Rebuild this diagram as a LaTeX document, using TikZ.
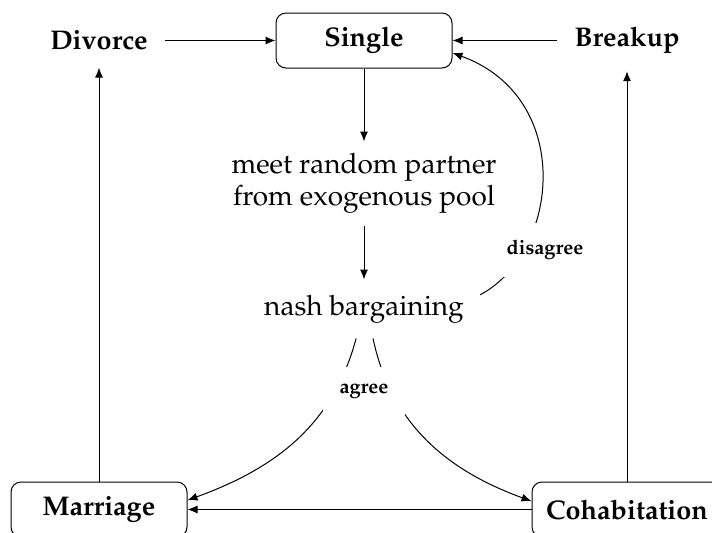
\documentclass[tikz,border=0pt]{standalone}
\IfFileExists{mathpazo.sty}{\usepackage[T1]{fontenc}\usepackage{mathpazo}}
  {\IfFileExists{palatino.sty}{\usepackage[T1]{fontenc}\usepackage{palatino}}
    {\usepackage{fontspec}\setmainfont{Liberation Serif}}}
\usetikzlibrary{arrows.meta}
\tikzset{state/.style = {draw, rounded corners=5pt, minimum width=88pt,
                         minimum height=27.5pt, inner xsep=7pt,
                         font=\fontsize{13.5}{16}\selectfont\bfseries}}
\tikzset{plain/.style = {inner sep=8.5pt, font=\fontsize{13.5}{16}\selectfont\bfseries}}
\tikzset{stage/.style = {align=center, inner xsep=8pt, font=\fontsize{14}{16}\selectfont}}
\tikzset{choice/.style = {fill=white, inner sep=8.5pt,
                          font=\fontsize{10}{12}\selectfont\bfseries}}

\begin{document}
\begin{tikzpicture}[x=0.5pt, y=-0.5pt, line width=0.5pt,
                    >={Latex[length=5pt,width=4pt]}]
			\clip (0, 0) rectangle (712, 532);
			\node [state] (single) at (364, 40.5) {Single};
			\node [state] (marriage) at (99, 509.5) {Marriage};
			\node [state] (cohab) at (627, 509.5) {Cohabitation};
			\node [plain] (divorce) at (99, 40.5) {Divorce};
			\node [plain] (breakup) at (627, 40.5) {Breakup};
			\node [stage, minimum height=41.5pt] (meet) at (364, 183.5) {meet random partner\\from exogenous pool};
			\node [stage, minimum height=29pt] (nash) at (364, 309) {nash bargaining};
			\draw [->] (divorce) to (single);
			\draw [->] (breakup) to (single);
			\draw [->] (single) to (meet);
			\draw [->] (meet) to (nash);
			\draw [->] (marriage) to (divorce);
			\draw [->] (cohab) to (breakup);
			\draw [->] (cohab) to (marriage);
			\draw [->] (nash.-105) to [out=-105, in=20] (marriage.6);
			\draw [->] (nash.-73) to [out=-78, in=160] (cohab.175);
			\draw [->] (nash.7) .. controls +(28:45pt) and +(-20:65pt) .. (single.-8);
			\node [choice] (agree) at (364, 391) {agree};
			\node [choice, inner xsep=3pt] (disagree) at (545, 250) {disagree};
		\end{tikzpicture}
\end{document}
